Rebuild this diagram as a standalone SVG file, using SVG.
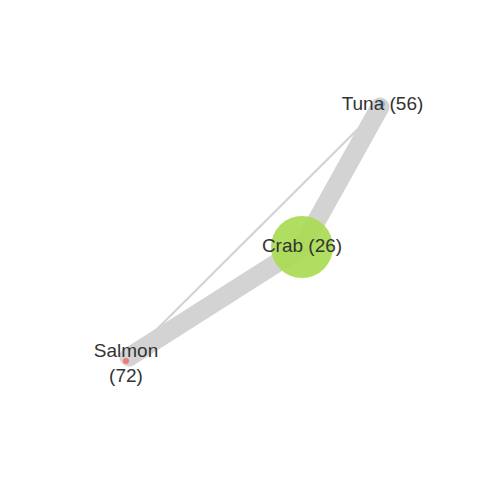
<svg xmlns="http://www.w3.org/2000/svg" width="480" height="480" viewBox="0 0 480 480">
<style>
.e{stroke:#d3d3d3;fill:none;stroke-linecap:round}
.t{font-family:"Liberation Sans",Arial,sans-serif;font-size:19px;fill:#333;text-anchor:middle}
</style>
<rect width="480" height="480" fill="#fff"/>
<g id="connectors">
<line class="e" x1="302" y1="247" x2="380" y2="107" stroke-width="19"/>
<line class="e" x1="302" y1="247" x2="129" y2="357" stroke-width="19"/>
<line class="e" x1="380" y1="107" x2="129" y2="357" stroke-width="2.2"/>
</g>
<g id="crab">
<circle cx="302" cy="247" r="31" fill="#a9db52" fill-opacity="0.92"/>
<text class="t" x="302" y="252">Crab (26)</text>
</g>
<g id="tuna">
<circle cx="382" cy="104" r="3" fill="#8fb3d8"/>
<text class="t" x="382.5" y="110">Tuna (56)</text>
</g>
<g id="salmon">
<circle cx="126" cy="361" r="3" fill="#f07a72"/>
<text class="t" x="126" y="357">Salmon</text>
<text class="t" x="126" y="382">(72)</text>
</g>
</svg>
